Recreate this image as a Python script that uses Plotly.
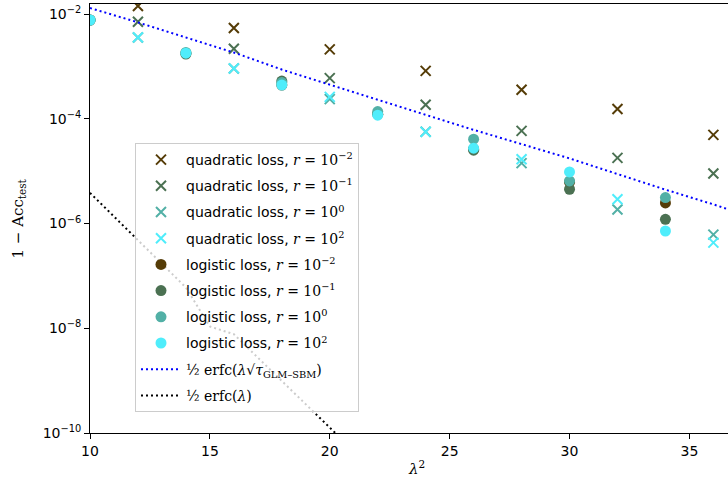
import plotly.graph_objects as go

# ---------------- data ----------------
x_quad = [12, 16, 20, 24, 28, 32, 36]
quad_r_m2 = [1.42e-2, 5.4e-3, 2.11e-3, 8.2e-4, 3.57e-4, 1.53e-4, 4.92e-5]
quad_r_m1 = [7.13e-3, 2.17e-3, 5.97e-4, 1.85e-4, 5.87e-5, 1.79e-5, 9.0e-6]
quad_r_0 = [3.56e-3, 9.08e-4, 2.37e-4, 5.66e-5, 1.42e-5, 1.85e-6, 6.14e-7]
quad_r_2 = [3.58e-3, 9.17e-4, 2.62e-4, 5.62e-5, 1.69e-5, 2.90e-6, 4.31e-7]

x_log = [10, 14, 18, 22, 26, 30, 34]
log_r_m2 = [7.68e-3, 1.79e-3, 4.39e-4, 1.22e-4, 2.62e-5, 6.14e-6, 2.47e-6]
log_r_m1 = [7.68e-3, 1.72e-3, 5.24e-4, 1.22e-4, 2.51e-5, 4.51e-6, 1.20e-6]
log_r_0 = [7.68e-3, 1.84e-3, 4.90e-4, 1.37e-4, 4.07e-5, 6.50e-6, 3.13e-6]
log_r_2 = [7.68e-3, 1.79e-3, 4.39e-4, 1.17e-4, 2.74e-5, 9.66e-6, 7.19e-7]

x_tau = [10, 12, 16, 18, 22, 26, 30, 34, 36, 36.6]
y_tau = [1.30e-2, 6.93e-3, 1.84e-3, 8.71e-4, 2.31e-4, 6.14e-5, 1.75e-5, 4.43e-6, 2.32e-6, 1.88e-6]

x_erfc = [10, 11, 12, 13, 14, 15, 16, 17, 18, 19, 20, 20.5]
y_erfc = [3.85e-6, 1.36e-6, 4.8e-7, 1.70e-7, 6.0e-8, 1.08e-8, 7.7e-9, 2.75e-9, 9.8e-10, 3.53e-10, 1.27e-10, 7.6e-11]

r_labels = ["10<sup>−2</sup>", "10<sup>−1</sup>", "10<sup>0</sup>", "10<sup>2</sup>"]
colors = ["#553C07", "#4B7152", "#52B0A6", "#4FEDFB"]

yticks = [1e-10, 1e-8, 1e-6, 1e-4, 1e-2]
yticklabels = ["10<sup>−10</sup>", "10<sup>−8</sup>", "10<sup>−6</sup>", "10<sup>−4</sup>", "10<sup>−2</sup>"]
xticks = [10, 15, 20, 25, 30, 35]

SERIF = "DejaVu Serif"
rfmt = "<span style='font-family:DejaVu Serif'><i>r</i> = {}</span>"

fig = go.Figure()

quad_series = [quad_r_m2, quad_r_m1, quad_r_0, quad_r_2]
log_series = [log_r_m2, log_r_m1, log_r_0, log_r_2]

k = 0
for ys, c, lab in zip(quad_series, colors, r_labels):
    fig.add_trace(go.Scatter(
        x=x_quad, y=ys, mode="markers",
        name="quadratic loss, " + rfmt.format(lab),
        legendgroup="g%02d" % k,
        marker=dict(symbol="x-thin", size=10, color=c, line=dict(color=c, width=2)),
    ))
    k += 1

for ys, c, lab in zip(log_series, colors, r_labels):
    fig.add_trace(go.Scatter(
        x=x_log, y=ys, mode="markers",
        name="logistic loss, " + rfmt.format(lab),
        legendgroup="g%02d" % k,
        marker=dict(symbol="circle", size=11, color=c, line=dict(width=0)),
    ))
    k += 1

fig.add_trace(go.Scatter(
    x=x_tau, y=y_tau, mode="lines",
    name="<span style='font-family:DejaVu Serif'>½ erfc(<i>λ</i>√<i>τ</i><sub>GLM–SBM</sub>)</span>",
    legendgroup="g%02d" % k,
    line=dict(color="#0000FF", width=2, dash="2px,3px"),
))
k += 1
fig.add_trace(go.Scatter(
    x=x_erfc, y=y_erfc, mode="lines",
    name="<span style='font-family:DejaVu Serif'>½ erfc(<i>λ</i>)</span>",
    legendgroup="g%02d" % k,
    line=dict(color="#000000", width=2, dash="2px,3px"),
))

pw, ph = 728 - 90, 484 - 4 - 51

fig.update_layout(
    width=728, height=484,
    margin=dict(l=90, r=0, t=4, b=51),
    paper_bgcolor="white", plot_bgcolor="white",
    font=dict(family="DejaVu Sans", size=14, color="black"),
    showlegend=True,
    legend=dict(
        x=(135 - 90) / pw, y=(433 - 143) / ph, xanchor="left", yanchor="top",
        bgcolor="rgba(255,255,255,0.8)", bordercolor="#cccccc", borderwidth=1,
        font=dict(size=14), tracegroupgap=5, traceorder="grouped",
        itemwidth=40,
    ),
    xaxis=dict(
        range=[10, 36.61], tickvals=xticks, showgrid=False, zeroline=False,
        showline=True, linecolor="black", linewidth=1, mirror=True,
        ticks="outside", ticklen=5, tickcolor="black", tickfont=dict(size=14),
    ),
    yaxis=dict(
        type="log", range=[-10, -1.809], tickvals=yticks, ticktext=yticklabels,
        showgrid=False, zeroline=False, showline=True, linecolor="black", linewidth=1,
        ticks="outside", ticklen=5, tickcolor="black", tickfont=dict(size=14),
    ),
    annotations=[
        dict(text="<i>λ</i><sup>2</sup>", x=(416 - 90) / pw, y=(433 - 468) / ph,
             xref="paper", yref="paper", xanchor="center", yanchor="middle",
             showarrow=False, font=dict(family=SERIF, size=15)),
        dict(text="1 − Acc<sub>test</sub>", x=(18 - 90) / pw, y=0.5,
             xref="paper", yref="paper", xanchor="center", yanchor="middle",
             showarrow=False, textangle=-90, font=dict(family=SERIF, size=15)),
    ],
)

fig.write_html("out.html")
